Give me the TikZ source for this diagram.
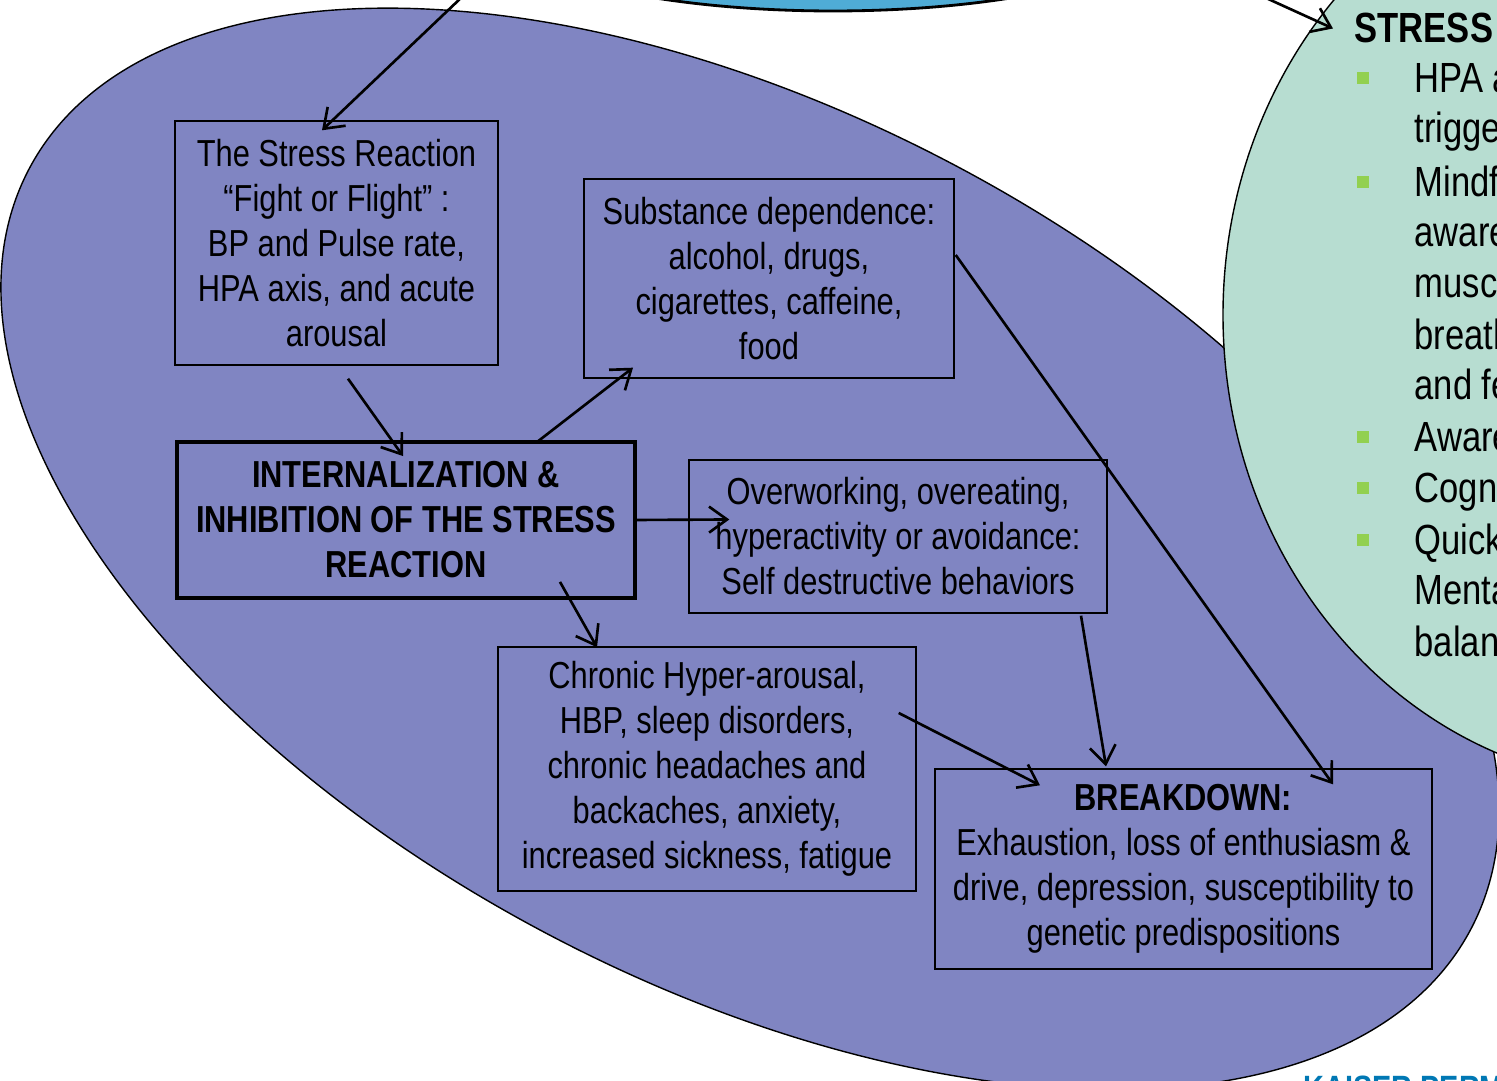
\documentclass[tikz,border=0pt]{standalone}
\usepackage{fontspec}
\setmainfont{Liberation Sans}[FakeStretch=0.82]
\usetikzlibrary{arrows.meta,positioning,calc}

\definecolor{purplebg}{RGB}{128,133,194}
\definecolor{mintbg}{RGB}{183,221,209}
\definecolor{skyblue}{RGB}{79,172,214}
\definecolor{bulletgreen}{RGB}{146,208,80}
\definecolor{kaiserblue}{RGB}{0,120,180}

\begin{document}
\begin{tikzpicture}[
    box/.style={draw, align=center, inner sep=0pt, font=\fontsize{10.7}{12.8}\selectfont},
    keybox/.style={box, line width=1.1pt, font=\bfseries\fontsize{10.7}{12.8}\selectfont},
    arr/.style={line width=0.75pt, -{Straight Barb[length=1.8mm,width=2.6mm]}},
    sidetext/.style={anchor=base west, inner sep=0pt, font=\fontsize{12}{14.6}\selectfont},
    bullet/.style={fill=bulletgreen, minimum size=0.12cm, inner sep=0pt}
]
\useasboundingbox (0,0) rectangle (14.97,-10.81);

% Background ellipses
\draw[fill=purplebg] (7.50,-5.49) ellipse[x radius=8.15, y radius=4.35, rotate=-27.8];
\draw[fill=mintbg] (16.53,-3.15) ellipse[x radius=4.30, y radius=4.70];
\draw[fill=skyblue, thick] (8.33,0.89) ellipse[x radius=3.6, y radius=1.0];

% Boxes
\node[box, minimum width=3.23cm, minimum height=2.44cm] (reaction) at (3.365,-2.43)
    {The Stress Reaction\\``Fight or Flight'' :\\BP and Pulse rate,\\HPA axis, and acute\\arousal};
\node[box, minimum width=3.70cm, minimum height=1.99cm] (substance) at (7.69,-2.785)
    {Substance dependence:\\alcohol, drugs,\\cigarettes, caffeine,\\food};
\node[keybox, minimum width=4.58cm, minimum height=1.56cm] (inhib) at (4.06,-5.20)
    {INTERNALIZATION \&\\INHIBITION OF THE STRESS\\REACTION};
\node[box, minimum width=4.18cm, minimum height=1.53cm] (overwork) at (8.98,-5.365)
    {Overworking, overeating,\\hyperactivity or avoidance:\\Self destructive behaviors};
\node[box, minimum width=4.18cm, minimum height=2.44cm] (chronic) at (7.07,-7.69)
    {Chronic Hyper-arousal,\\HBP, sleep disorders,\\chronic headaches and\\backaches, anxiety,\\increased sickness, fatigue};
\node[box, minimum width=4.97cm, minimum height=2.00cm] (breakdown) at (11.835,-8.69)
    {\textbf{BREAKDOWN:}\\Exhaustion, loss of enthusiasm \&\\drive, depression, susceptibility to\\genetic predispositions};

% Right side list
\node[sidetext, font=\bfseries\fontsize{12}{14.6}\selectfont] (stresshead) at (13.54,-0.43) {STRESS};
\foreach \y/\txt in {0.93/HPA a, 1.43/trigge, 1.97/Mindf, 2.47/aware, 2.98/musc, 3.50/breath,
    4.00/and fe, 4.52/Aware, 5.03/Cogn, 5.55/Quick, 6.05/Menta, 6.57/balan} {
    \node[sidetext] at (14.14,-\y) {\txt};
}
\foreach \y in {0.93, 1.97, 4.52, 5.03, 5.55} {
    \node[bullet] at (13.63,-\y+0.15) {};
}

% Logo fragment
\node[anchor=north west, inner sep=0pt, text=kaiserblue, font=\bfseries\fontsize{10}{10}\selectfont] (logo) at (13.03,-10.75) {KAISER PERM};

% Free ends
\coordinate (topin) at (4.62,0.03);
\coordinate (topout) at (12.66,0.02);

% Arrows
\draw[arr] (topin) -- ($(reaction.north)+(-0.145,-0.10)$);
\draw[arr] (topout) -- ($(stresshead.west)+(-0.21,0)$);
\draw[arr] ($(reaction.south)+(0.115,-0.13)$) -- ($(inhib.north)+(-0.03,-0.16)$);
\draw[arr] ($(inhib.north)+(1.31,-0.02)$) -- ($(substance.south)+(-1.36,0.11)$);
\draw[arr] (inhib.east) -- ($(overwork.west)+(0.41,0.17)$);
\draw[arr] ($(inhib.south)+(1.54,0.18)$) -- ($(chronic.north)+(-1.10,-0.01)$);
\draw[arr] ($(chronic.east)+(-0.18,0.56)$) -- ($(breakdown.north)+(-1.435,-0.17)$);
\draw[arr] ($(overwork.south)+(1.83,-0.02)$) -- ($(breakdown.north)+(-0.775,0.02)$);
\draw[arr] ($(substance.east)+(0.01,0.235)$) -- ($(breakdown.north)+(1.495,-0.16)$);

\end{tikzpicture}
\end{document}
